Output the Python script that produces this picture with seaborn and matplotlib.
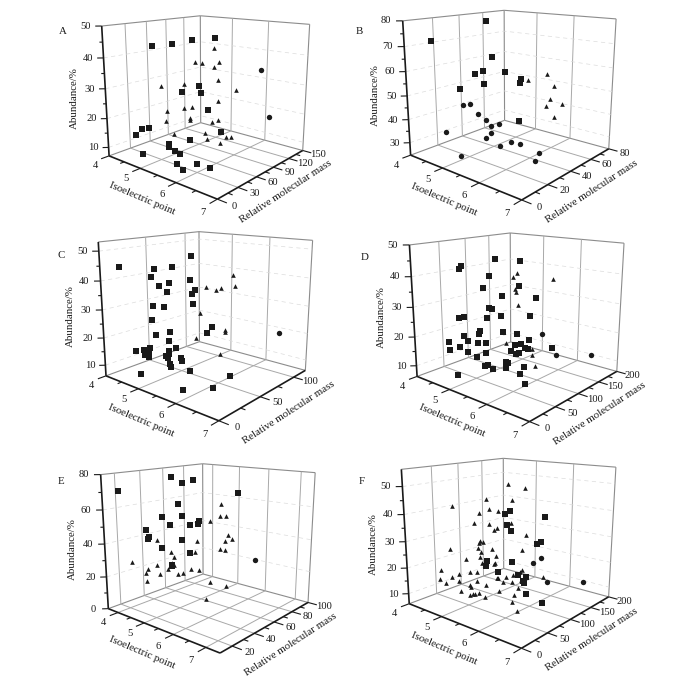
import numpy as np
import matplotlib
matplotlib.use("Agg")
import matplotlib.pyplot as plt
import seaborn as sns
from mpl_toolkits.mplot3d import proj3d

# values: pI, relative molecular mass, abundance
a_sq_pi = [4.73,5.0,5.2,5.65,5.3,5.09,5.32,5.53,4.63,4.56,4.48,5.5,5.91,5.14,5.24,5.44,5.62,4.79,5.74,5.93,6.13,6.44]
a_sq_mw = [34,49,68,79,73,58,75,75,30,24,19,47,73,34,30,28,26,13,15,13,22,24]
a_sq_ab = [43.6,44.2,45.1,46.0,30.1,28.2,27.6,22.2,16.5,16.4,14.6,14.3,16.1,12.4,12.3,12.0,11.8,9.7,10.1,9.3,11.3,11.2]
a_tr_pi = [5.67,5.26,5.36,5.78,5.67,5.79,4.85,5.12,6.05,5.76,4.92,5.13,5.22,5.2,5.19,4.88,5.62,5.77,5.05,5.66,5.85,6.08,6.12,6.15]
a_tr_mw = [75,69,75,77,75,75,39,60,88,77,43,58,66,64,64,43,75,77,47,62,54,71,77,56]
a_tr_ab = [43.0,38.2,37.7,38.7,36.9,33.1,30.9,31.0,29.7,26.0,22.2,23.0,23.0,19.3,18.5,18.9,18.3,19.3,14.5,16.0,15.3,15.4,14.8,14.8]
a_ci_pi = [6.4,6.54]
a_ci_mw = [107,114]
a_ci_ab = [35.9,20.3]

b_sq_pi = [4.59,4.42,5.17,5.05,4.99,5.32,5.75,5.72,5.08,4.77,5.7]
b_sq_mw = [46,9,34,30,26,40,40,40,30,20,40]
b_sq_ab = [78.0,72.4,65.0,59.5,58.7,58.7,56.8,55.2,54.3,52.4,39.1]
b_tr_pi = [6.14,5.85,6.26,6.18,6.13,6.36,6.25]
b_tr_mw = [49,43,52,51,49,56,53]
b_tr_ab = [59.1,56.3,54.1,48.6,45.6,46.2,40.9]
b_ci_pi = [4.8,4.9,5.0,5.09,5.28,5.16,4.58,5.37,5.38,5.94,6.17,5.8,6.48,6.59,5.18]
b_ci_mw = [21,24,27,31,36,33,13,27,23,26,26,21,31,24,9]
b_ci_ab = [45.7,46.0,41.6,38.8,36.6,35.9,34.8,34.9,33.7,34.1,34.6,32.9,31.5,30.5,28.5]

c_sq_pi = [4.33,4.81,5.01,5.16,4.73,5.18,4.83,4.95,4.90,5.23,5.17,5.21,4.77,4.92,4.73,5.64,5.50,4.81,4.96,4.93,4.53,4.62,4.71,4.68,4.65,4.67,4.98,4.91,4.92,4.96,5.03,5.32,5.4,5.22,5.26,5.75,4.81,6.47,6.47,5.95]
c_sq_mw = [9,28,40,56,27,54,32,38,38,58,56,56,27,34,27,60,60,28,38,38,16,21,24,24,21,24,44,38,34,36,32,36,33,27,26,27,10,40,20,10]
c_sq_ab = [45.0,44.1,44.4,47.8,41.1,39.7,38.0,38.9,35.7,35.8,34.5,31.1,31.4,30.8,26.3,23.8,21.1,21.2,21.7,18.3,15.6,15.7,16.5,15.2,14.1,12.9,15.4,14.5,13.3,13.9,13.2,13.7,13.4,12.2,11.7,12.0,9.0,12.1,10.7,8.7]
c_tr_pi = [6.0,5.47,5.72,5.81,6.04,5.32,5.89,5.9,5.27,5.97]
c_tr_mw = [68,60,60,62,69,60,64,63,57,54]
c_tr_ab = [42.1,37.2,36.9,37.7,38.4,27.7,23.2,22.4,18.6,15.9]
c_ci_pi = [6.64]
c_ci_mw = [98]
c_ci_ab = [21.0]

d_sq_pi = [5.11,5.55,4.71,4.72,5.05,5.52,4.97,5.19,5.89,5.03,5.08,4.67,4.72,5.03,5.18,5.79,4.96,4.92,5.21,5.48,4.74,4.53,4.77,4.92,4.99,4.67,4.54,4.76,5.79,5.58,5.48,5.54,5.69,5.75,5.73,5.81,6.12,4.96,5.06,5.67,5.7,5.32,5.37,5.55,5.79,6.11,6.18,4.94,6.41]
d_sq_mw = [82,100,45,42,75,100,68,90,105,75,78,42,48,72,88,102,62,62,90,100,45,30,50,60,70,42,30,50,100,100,95,82,80,82,95,95,122,55,65,62,62,45,48,45,52,62,50,20,40]
d_sq_ab = [45.1,44.7,43.3,42.4,39.6,36.5,35.8,33.0,33.4,29.1,28.9,26.3,26.6,25.8,26.2,27.4,21.8,20.5,20.5,20.3,20.3,18.5,18.3,17.6,17.2,16.4,15.5,14.4,19.2,17.1,16.6,15.7,15.4,15.8,16.5,16.5,16.5,13.3,14.3,13.7,13.6,12.2,12.4,12.0,12.9,13.8,12.7,9.4,11.5]
d_tr_pi = [5.48,5.35,6.13,5.41,5.44,5.5,5.24,5.87,6.0,6.23]
d_tr_mw = [100,100,120,100,100,100,95,100,88,75]
d_tr_ab = [40.7,39.2,39.3,35.4,34.4,30.1,16.4,16.5,15.7,13.9]
d_ci_pi = [5.97,6.19,6.67]
d_ci_mw = [112,125,165]
d_ci_ab = [21.1,14.1,13.3]

e_sq_pi = [4.37,3.93,4.89,4.82,4.92,6.16,4.65,4.96,4.77,5.09,5.21,5.18,4.37,4.43,4.41,4.95,4.63,5.07,4.83,4.81]
e_sq_mw = [49,16,46,58,42,62,34,44,38,48,53,53,27,28,28,44,34,48,38,38]
e_sq_ab = [76.8,70.7,74.5,74.6,63.0,69.5,55.4,55.8,50.7,50.1,51.8,50.3,48.1,43.8,42.5,41.2,37.1,33.0,26.4,25.7]
e_tr_pi = [5.83,5.82,5.96,5.51,4.58,5.18,5.99,6.07,5.94,5.85,5.95,4.8,5.17,4.86,4.14,4.55,4.82,4.84,4.41,4.75,4.38,4.62,4.86,4.98,5.1,5.2,4.4,5.72,6.1,6.05]
e_tr_mw = [56,55,57,55,31,52,58,60,57,55,57,38,50,39,20,31,38,39,27,36,26,32,42,44,48,53,26,49,53,36]
e_tr_ab = [63.3,56.7,56.6,52.4,42.1,40.2,45.2,42.8,41.6,36.9,36.2,34.4,33.4,31.6,29.6,26.8,27.9,26.4,24.6,24.0,22.4,21.5,20.3,21.2,23.2,21.8,17.8,17.5,16.5,12.8]
e_ci_pi = [6.48]
e_ci_mw = [70]
e_ci_ab = [30.2]

f_sq_pi = [6.12,5.48,5.34,5.41,5.5,6.08,6.0,5.54,5.12,5.1,5.29,5.75,5.93,6.03,5.98,6.24,6.53]
f_sq_mw = [122,100,100,100,100,118,115,100,80,78,90,95,98,85,88,72,80]
f_sq_ab = [39.1,40.7,39.2,35.1,33.2,29.8,28.9,21.4,21.4,19.6,17.0,17.5,17.1,16.2,16.8,14.3,11.7]
f_tr_pi = [5.43,5.84,5.11,5.54,4.7,5.16,5.26,5.02,4.98,5.51,5.16,5.22,5.21,5.85,5.02,5.07,5.02,5.0,4.66,5.17,5.8,5.06,5.03,5.22,4.86,5.04,5.2,5.19,4.51,4.9,4.98,4.77,4.66,4.49,4.77,4.58,5.08,5.01,5.05,5.32,4.93,5.45,5.41,5.57,5.62,5.8,6.04,5.73,6.1,5.57,5.23,5.27,5.3,5.36,6.2,6.43,6.12,5.78,5.75,5.66,5.93]
f_tr_mw = [100,102,80,100,42,82,92,72,65,100,82,92,88,105,72,75,70,70,40,85,100,72,72,90,55,75,90,88,30,60,68,48,42,30,48,35,62,52,52,62,40,78,78,85,75,78,72,58,58,42,38,40,42,45,48,38,120,102,100,92,88]
f_tr_ab = [50.3,49.4,44.9,44.6,42.8,41.1,40.5,40.0,36.3,36.3,35.6,33.7,33.2,32.4,29.4,29.1,28.6,26.7,26.9,25.9,26.8,25.2,23.2,23.2,23.1,20.7,20.3,20.1,19.0,17.8,17.6,17.4,16.2,15.7,14.5,14.0,14.7,13.8,13.2,14.5,11.9,16.3,16.1,16.9,15.7,16.1,15.5,14.2,14.4,12.4,12.0,12.2,12.5,12.9,13.1,11.9,16.3,19.0,18.4,17.3,16.8]
f_ci_pi = [6.07,5.95,6.23,6.67]
f_ci_mw = [118,112,120,165]
f_ci_ab = [23.8,21.6,14.9,13.3]

# limits, ticks (first, last, major step, minor step) and camera of each panel
panels = [
    dict(name="A", lim=((4,7),(0,150),(7,50)), yt=(0,150,30,15), zt=(10,50,10,5), xy=(63,32),
         cam=[14.4417,-49.4578,0.3654,1.0818,1.072,0.2917,0.8621,0.3335],
         sq=(a_sq_pi,a_sq_mw,a_sq_ab), tr=(a_tr_pi,a_tr_mw,a_tr_ab), ci=(a_ci_pi,a_ci_mw,a_ci_ab)),
    dict(name="B", lim=((4,7),(0,80),(24.5,80)), yt=(0,80,20,10), zt=(30,80,10,5), xy=(359,32),
         cam=[14.6187,-49.7391,0.3577,1.0691,1.0694,0.7259,0.8665,0.3427],
         sq=(b_sq_pi,b_sq_mw,b_sq_ab), tr=(b_tr_pi,b_tr_mw,b_tr_ab), ci=(b_ci_pi,b_ci_mw,b_ci_ab)),
    dict(name="C", lim=((4,7),(0,120),(6,53)), yt=(0,100,50,25), zt=(10,50,10,5), xy=(61,256),
         cam=[14.4475,-49.7252,0.3604,1.0873,1.0646,0.2913,0.5441,0.3436],
         sq=(c_sq_pi,c_sq_mw,c_sq_ab), tr=(c_tr_pi,c_tr_mw,c_tr_ab), ci=(c_ci_pi,c_ci_mw,c_ci_ab)),
    dict(name="D", lim=((4,7),(0,200),(6.2,50)), yt=(0,200,50,25), zt=(10,50,10,5), xy=(365,257),
         cam=[15.0429,-49.4634,0.3741,1.1052,1.0778,0.7357,0.5415,0.3425],
         sq=(d_sq_pi,d_sq_mw,d_sq_ab), tr=(d_tr_pi,d_tr_mw,d_tr_ab), ci=(d_ci_pi,d_ci_mw,d_ci_ab)),
    dict(name="E", lim=((3.6,7.4),(10,100),(0,80)), yt=(20,100,20,10), zt=(0,80,20,10), xy=(61,481),
         cam=[14.5082,-49.6709,0.3662,1.078,1.0784,0.2951,0.2053,0.3441],
         sq=(e_sq_pi,e_sq_mw,e_sq_ab), tr=(e_tr_pi,e_tr_mw,e_tr_ab), ci=(e_ci_pi,e_ci_mw,e_ci_ab)),
    dict(name="F", lim=((4,7),(0,200),(6,56)), yt=(0,200,50,25), zt=(10,50,10,5), xy=(362,481),
         cam=[14.652,-50.0063,0.3619,1.0738,1.0791,0.725,0.213,0.3442],
         sq=(f_sq_pi,f_sq_mw,f_sq_ab), tr=(f_tr_pi,f_tr_mw,f_tr_ab), ci=(f_ci_pi,f_ci_mw,f_ci_ab)),
]
xt = (4,7,1,.5)
W, H = 700, 686
TICK_FS = 7.6
TITLE_FS = 7.8

sns.set_theme(style="white")
plt.rcParams['font.family'] = ['Liberation Serif']
fig = plt.figure(figsize=(7,6.86), dpi=100)


def rng(t):
    return np.arange(t[0], t[1]+t[3]/2, t[3])


def is_major(v, t):
    r = (v-t[0])/t[2]
    return abs(r-round(r)) < 1e-6


def line(ax, a, b, color, lw):
    ax.plot(*zip(a,b), color=color, lw=lw, clip_on=False, solid_capstyle='butt')


def label(ax, x, y, z, s, rot=0, fs=TICK_FS):
    X, Y, _ = proj3d.proj_transform(x, y, z, ax.get_proj())
    ax.text2D(X, Y, s, transform=ax.transData, rotation=rot, ha='center', va='center',
              rotation_mode='anchor', fontsize=fs, color='k', clip_on=False)


def draw_box(ax, lim, yt, zt):
    (x0,x1),(y0,y1),(z0,z1) = lim
    xr, yr, zr = x1-x0, y1-y0, z1-z0
    g = '#a8a8a8'
    for a,b in [((x0,y0,z1),(x0,y1,z1)),((x0,y1,z1),(x1,y1,z1)),((x0,y1,z0),(x0,y1,z1)),
                ((x1,y1,z0),(x1,y1,z1)),((x0,y1,z0),(x1,y1,z0)),((x0,y0,z0),(x0,y1,z0))]:
        line(ax, a, b, '#8c8c8c', .8)
    for t in np.arange(xt[0], xt[1]+.5, xt[2]):
        if x0 < t < x1:
            line(ax, (t,y0,z0), (t,y1,z0), g, .7)
            line(ax, (t,y1,z0), (t,y1,z1), g, .7)
    for t in np.arange(yt[0], yt[1]+1, yt[2]):
        if y0 < t < y1:
            line(ax, (x0,t,z0), (x1,t,z0), g, .7)
            line(ax, (x0,t,z0), (x0,t,z1), g, .7)
    for t in np.arange(zt[0], zt[1]+1, zt[2]):
        if z0 < t < z1:
            ax.plot([x0,x0,x1], [y0,y1,y1], [t,t,t], color='#dcdcdc', lw=.5, ls=(0,(6,5)), clip_on=False)
    # black axes with outward ticks
    line(ax, (x0,y0,z0), (x1,y0,z0), 'k', 1.2)
    line(ax, (x1,y0,z0), (x1,y1,z0), 'k', 1.2)
    line(ax, (x0,y0,z0), (x0,y0,z1), 'k', 1.2)
    for t in rng(xt):
        m = is_major(t, xt)
        line(ax, (t,y0,z0), (t,y0-(.07 if m else .035)*yr,z0), 'k', .8)
        if m:
            label(ax, t, y0-.125*yr, z0-.035*zr, f"{t:g}")
    for t in rng(yt):
        m = is_major(t, yt)
        line(ax, (x1,t,z0), (x1+(.07 if m else .035)*xr,t,z0), 'k', .8)
        if m:
            label(ax, x1+.125*xr, t, z0, f"{t:g}")
    for t in rng(zt):
        m = is_major(t, zt)
        f = .03 if m else .015
        line(ax, (x0,y0,t), (x0-f*xr,y0-f*yr,t), 'k', .8)
        if m:
            label(ax, x0-.075*xr, y0-.075*yr, t, f"{t:g}")
    label(ax, x0+.62*xr, y0-.24*yr, z0-.035*zr, "Isoelectric point", -23, TITLE_FS)
    label(ax, x1+.16*xr, (y0+y1)/2, z0-.095*zr, "Relative molecular mass", 33, TITLE_FS)
    label(ax, x0-.15*xr, y0-.15*yr, z0+.47*zr, "Abundance/%", 90, TITLE_FS)


for p in panels:
    ax = fig.add_axes([0,0,.5,.5], projection='3d')
    ax.set_axis_off()
    ax.patch.set_visible(False)
    ax.computed_zorder = False
    (x0,x1),(y0,y1),(z0,z1) = p['lim']
    ax.set_xlim(x0,x1)
    ax.set_ylim(y0,y1)
    ax.set_zlim(z0,z1)
    el, az, foc, bx, by, cx, cy, s = p['cam']
    ax.set_position([cx-s/2, cy-s/2*W/H, s, s*W/H])
    ax.view_init(el, az)
    ax.set_proj_type('persp', focal_length=foc)
    ax.set_box_aspect((bx,by,1))
    ax.apply_aspect()
    draw_box(ax, p['lim'], p['yt'], p['zt'])
    for key, mk, sz in (('sq','s',13), ('tr','^',11), ('ci','o',15)):
        pi, mw, ab = p[key]
        ax.scatter(pi, mw, ab, marker=mk, s=sz, c='k', linewidths=0, depthshade=False, zorder=5, clip_on=False)
    fig.text(p['xy'][0]/W, 1-p['xy'][1]/H, p['name'], ha='center', va='center', fontsize=TITLE_FS, color='k')

fig.savefig("out.png", dpi=100)
